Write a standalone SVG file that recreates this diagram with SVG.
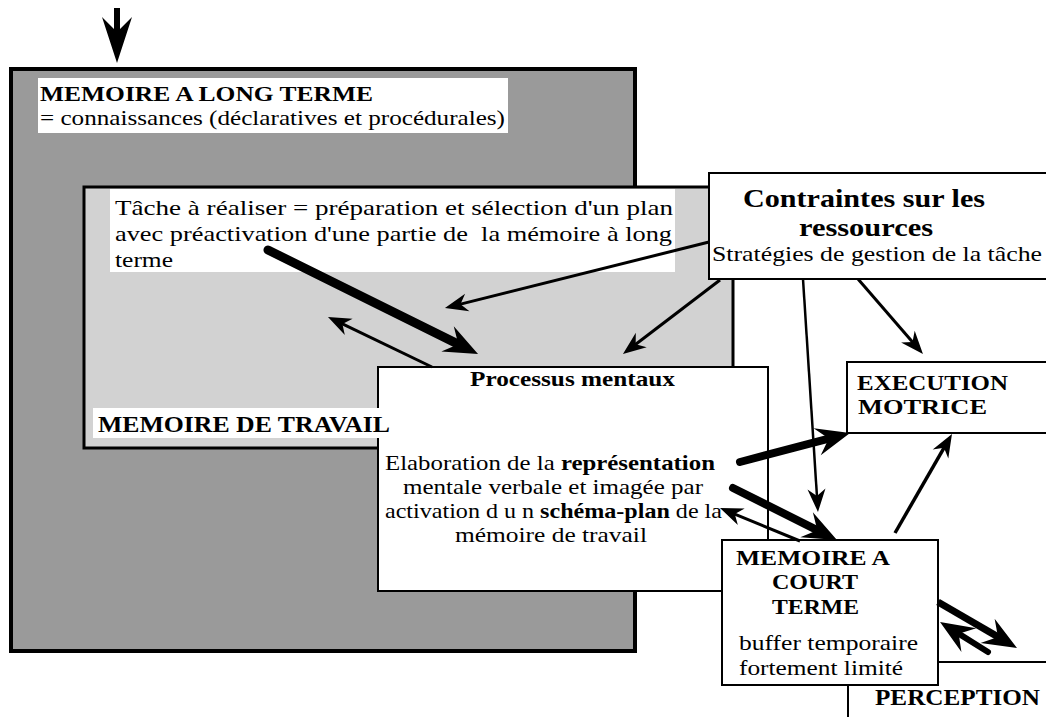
<svg xmlns="http://www.w3.org/2000/svg" width="1046" height="717" viewBox="0 0 1046 717">
<style>
.box{fill:#fff;stroke:#000;stroke-width:2}
.t{font-family:"Liberation Serif","Times New Roman",serif;fill:#000;font-size:22px}
.b{font-weight:bold}
.ln{stroke:#000;fill:none}
</style>
<defs>
<marker id="thin" viewBox="-25 -10 27 20" markerWidth="27" markerHeight="20" refX="-12" refY="0" orient="auto" markerUnits="userSpaceOnUse"><path d="M0,0 L-23,-9 L-16,0 L-23,9 Z" fill="#000"/></marker>
<marker id="thick" viewBox="-36 -16 38 32" markerWidth="38" markerHeight="32" refX="-20" refY="0" orient="auto" markerUnits="userSpaceOnUse"><path d="M0,0 L-34,-14 L-22,0 L-34,14 Z" fill="#000"/></marker>
</defs>
<rect width="1046" height="717" fill="#fff"/>

<g id="ltm">
<rect x="11" y="69" width="624" height="582" fill="#9a9a9a" stroke="#000" stroke-width="4"/>
<rect x="38" y="78" width="470" height="55" fill="#fff"/>
<text class="t b" x="40" y="101" textLength="333" lengthAdjust="spacingAndGlyphs">MEMOIRE A LONG TERME</text>
<text class="t" x="40" y="125" textLength="465" lengthAdjust="spacingAndGlyphs">= connaissances (déclaratives et procédurales)</text>
</g>

<g id="wm">
<rect x="84" y="187" width="649" height="261" fill="#d2d2d2" stroke="#000" stroke-width="3"/>
<rect x="110" y="189" width="565" height="83" fill="#fff"/>
<text class="t" x="115" y="215" textLength="558" lengthAdjust="spacingAndGlyphs">Tâche à réaliser = préparation et sélection d'un plan</text>
<text class="t" x="115" y="241" textLength="557" lengthAdjust="spacingAndGlyphs" xml:space="preserve">avec préactivation d'une partie de  la mémoire à long</text>
<text class="t" x="115" y="267" textLength="58" lengthAdjust="spacingAndGlyphs">terme</text>
</g>

<g id="contraintes">
<rect x="709" y="173" width="345" height="106" class="box"/>
<text class="t b" x="743" y="207" style="font-size:26px" textLength="242" lengthAdjust="spacingAndGlyphs">Contraintes sur les</text>
<text class="t b" x="799" y="236" style="font-size:26px" textLength="134" lengthAdjust="spacingAndGlyphs">ressources</text>
<text class="t" x="712" y="261" textLength="330" lengthAdjust="spacingAndGlyphs">Stratégies de gestion de la tâche</text>
</g>

<g id="processus">
<rect x="378" y="367" width="390" height="224" class="box"/>
<text class="t b" x="470" y="386" textLength="205" lengthAdjust="spacingAndGlyphs">Processus mentaux</text>
<text class="t" x="385" y="470" textLength="330" lengthAdjust="spacingAndGlyphs">Elaboration de la <tspan class="b">représentation</tspan></text>
<text class="t" x="403" y="494" textLength="300" lengthAdjust="spacingAndGlyphs">mentale verbale et imagée par</text>
<text class="t" x="385" y="518" textLength="337" lengthAdjust="spacingAndGlyphs">activation d u n <tspan class="b">schéma-plan</tspan> de la</text>
<text class="t" x="455" y="542" textLength="192" lengthAdjust="spacingAndGlyphs">mémoire de travail</text>
</g>

<g id="wm-label">
<rect x="93" y="408" width="300" height="30" fill="#fff"/>
<text class="t b" x="98" y="432" style="font-size:24px" textLength="292" lengthAdjust="spacingAndGlyphs">MEMOIRE DE TRAVAIL</text>
</g>

<g id="execution">
<rect x="847" y="362" width="210" height="71" class="box"/>
<text class="t b" x="857" y="390" textLength="151" lengthAdjust="spacingAndGlyphs">EXECUTION</text>
<text class="t b" x="858" y="414" textLength="129" lengthAdjust="spacingAndGlyphs">MOTRICE</text>
</g>

<g id="perception">
<rect x="848" y="662" width="210" height="70" class="box"/>
<text class="t b" x="875" y="705" style="font-size:24px" textLength="165" lengthAdjust="spacingAndGlyphs">PERCEPTION</text>
</g>

<g id="mct">
<rect x="722" y="540" width="216" height="145" class="box"/>
<text class="t b" x="736" y="565" textLength="154" lengthAdjust="spacingAndGlyphs">MEMOIRE A</text>
<text class="t b" x="772" y="589" textLength="86" lengthAdjust="spacingAndGlyphs">COURT</text>
<text class="t b" x="772" y="614" textLength="87" lengthAdjust="spacingAndGlyphs">TERME</text>
<text class="t" x="739" y="650" textLength="179" lengthAdjust="spacingAndGlyphs">buffer temporaire</text>
<text class="t" x="739" y="675" textLength="164" lengthAdjust="spacingAndGlyphs">fortement limité</text>
</g>

<g id="connectors">
<rect x="114" y="8" width="6" height="26" fill="#000"/>
<path d="M117,63 L102,17 L117,32 L132,17 Z" fill="#000"/>
<line class="ln" x1="268" y1="250" x2="460.1" y2="345.1" stroke-width="9" stroke-linecap="round" marker-end="url(#thick)"/>
<line class="ln" x1="432" y1="367" x2="338.8" y2="322.2" stroke-width="3" marker-end="url(#thin)"/>
<line class="ln" x1="709" y1="242" x2="456.6" y2="305.1" stroke-width="3" marker-end="url(#thin)"/>
<line class="ln" x1="720" y1="280" x2="632.5" y2="346.7" stroke-width="3" marker-end="url(#thin)"/>
<line class="ln" x1="803" y1="279" x2="817.2" y2="500" stroke-width="2.5" marker-end="url(#thin)"/>
<line class="ln" x1="858" y1="279" x2="915.1" y2="344.9" stroke-width="3" marker-end="url(#thin)"/>
<line class="ln" x1="740" y1="462" x2="830.7" y2="438.1" stroke-width="8" stroke-linecap="round" marker-end="url(#thick)"/>
<line class="ln" x1="733" y1="488" x2="819.1" y2="531.1" stroke-width="8" stroke-linecap="round" marker-end="url(#thick)"/>
<line class="ln" x1="800" y1="541" x2="731.1" y2="512.6" stroke-width="3" marker-end="url(#thin)"/>
<line class="ln" x1="895" y1="533" x2="946" y2="444.4" stroke-width="3.5" marker-end="url(#thin)"/>
<line class="ln" x1="938" y1="602" x2="999.7" y2="637.9" stroke-width="7" marker-end="url(#thick)"/>
<line class="ln" x1="988" y1="652" x2="957" y2="632.6" stroke-width="6" stroke-linecap="round" marker-end="url(#thick)"/>
</g>
</svg>
